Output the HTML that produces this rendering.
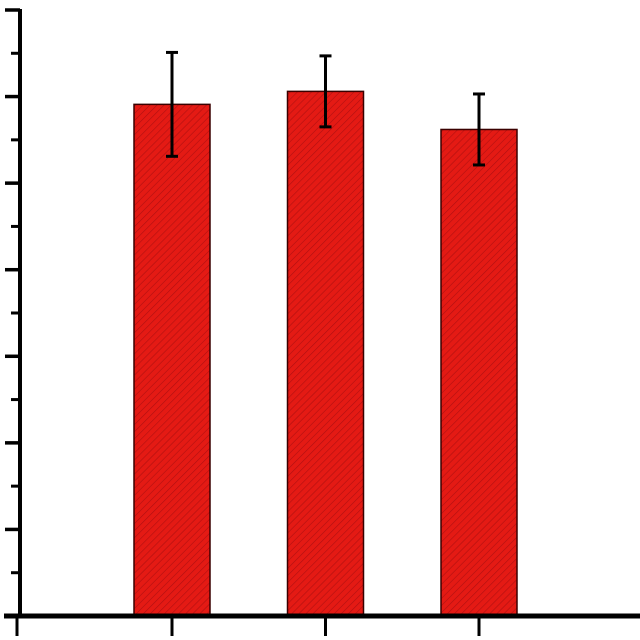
<!DOCTYPE html>
<html><head><meta charset="utf-8"><style>html,body{margin:0;padding:0;background:#fff;width:640px;height:640px;overflow:hidden}</style></head>
<body>
<svg id="chart" width="640" height="640" xmlns="http://www.w3.org/2000/svg">
<defs>
<pattern id="hatch" patternUnits="userSpaceOnUse" width="5" height="5" patternTransform="rotate(45)">
<rect width="5" height="5" fill="#e41a14"/>
<line x1="0" y1="0" x2="0" y2="5" stroke="#b01010" stroke-width="1.2"/>
</pattern>
</defs>
<g id="bars"></g>
<g id="axes"></g>
</svg>
<script>
const categories = ["A", "B", "C"];
const values = [59.1, 60.6, 56.2];
const errors = [6.0, 4.1, 4.1];
const yTicks = [0, 10, 20, 30, 40, 50, 60, 70];

const NS = "http://www.w3.org/2000/svg";
const y0 = 616, yTop = 10, yMax = 70;
const y = v => y0 - v / yMax * (y0 - yTop);
const xCenters = i => 172 + i * 153.5;
const barW = 76;
function mk(tag, attrs, parent){const e=document.createElementNS(NS,tag);for(const k in attrs)e.setAttribute(k,attrs[k]);parent.appendChild(e);return e;}
const bars = document.getElementById('bars');
const axes = document.getElementById('axes');
categories.forEach((c, i) => {
  const cx = xCenters(i);
  const r = mk('rect', {x: cx - barW/2, y: y(values[i]), width: barW, height: y0 - y(values[i]), fill: 'url(#hatch)', stroke: '#3a0000', 'stroke-width': 1.5}, bars);
  
  
  const g = mk('g', {stroke: '#000', 'stroke-width': 3}, bars);
  
  
  const hi = y(values[i] + errors[i]), lo = y(values[i] - errors[i]);
  mk('line', {x1: cx, x2: cx, y1: hi, y2: lo}, g);
  mk('line', {x1: cx - 6, x2: cx + 6, y1: hi, y2: hi}, g);
  mk('line', {x1: cx - 6, x2: cx + 6, y1: lo, y2: lo}, g);
  const t = mk('line', {x1: cx, x2: cx, y1: y0, y2: 636, stroke: '#000', 'stroke-width': 3}, axes);
  
  
});
const ya = mk('line', {x1: 20, x2: 20, y1: yTop - 1, y2: y0 + 2, stroke: '#000', 'stroke-width': 4}, axes);


const xa = mk('line', {x1: 4, x2: 640, y1: y0, y2: y0, stroke: '#000', 'stroke-width': 5}, axes);


const lt = mk('line', {x1: 17, x2: 17, y1: y0, y2: 636, stroke: '#000', 'stroke-width': 3}, axes);


yTicks.forEach((v, i) => {
  if (v === 0) return;
  const t = mk('line', {x1: 5, x2: 20, y1: y(v), y2: y(v), stroke: '#000', 'stroke-width': 3.5}, axes);
  
  
  const mv = v - 5;
  const m = mk('line', {x1: 11, x2: 20, y1: y(mv), y2: y(mv), stroke: '#000', 'stroke-width': 3}, axes);
  
  
});
</script>
</body></html>
